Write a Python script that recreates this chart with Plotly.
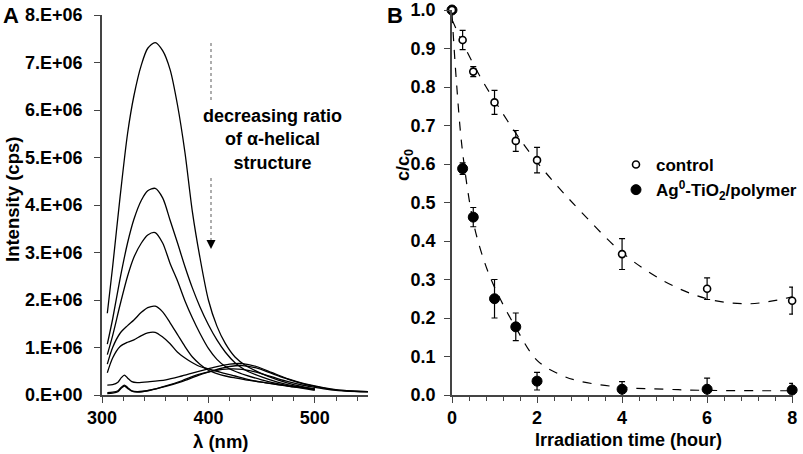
import plotly.graph_objects as go

# ---- panel A: emission spectra (intensity in units of 1e6 cps) ----
wl_main = [305, 310, 317, 324, 330, 337, 343, 350, 357, 364, 371, 378, 385,
           392, 400, 408, 416, 425, 435, 450, 465, 480, 500]
spec_1 = [1.72, 2.7, 4.17, 5.5, 6.3, 6.95, 7.3, 7.42, 7.25, 6.85, 6.1, 5.1, 3.85,
          2.9, 2.0, 1.45, 1.08, 0.8, 0.62, 0.45, 0.32, 0.22, 0.12]
spec_2 = [1.07, 1.6, 2.45, 3.2, 3.7, 4.1, 4.3, 4.35, 4.15, 3.68, 3.2, 2.7, 2.25,
          1.86, 1.48, 1.16, 0.9, 0.68, 0.52, 0.38, 0.27, 0.19, 0.12]
spec_3 = [0.85, 1.25, 1.9, 2.5, 2.9, 3.2, 3.37, 3.42, 3.2, 2.77, 2.4, 1.98, 1.62,
          1.3, 0.98, 0.75, 0.6, 0.5, 0.42, 0.32, 0.24, 0.17, 0.1]
spec_4 = [0.65, 1.0, 1.3, 1.46, 1.58, 1.74, 1.84, 1.87, 1.75, 1.52, 1.27, 1.02, 0.8,
          0.65, 0.52, 0.45, 0.4, 0.36, 0.32, 0.27, 0.22, 0.18, 0.13]
spec_5 = [0.47, 0.78, 1.02, 1.11, 1.16, 1.25, 1.31, 1.32, 1.22, 1.08, 0.9, 0.78, 0.68,
          0.6, 0.55, 0.5, 0.45, 0.4, 0.34, 0.27, 0.22, 0.17, 0.13]

wl_low = [305, 310, 315, 318, 321, 324, 328, 333, 345, 360, 375, 390, 405, 420,
          432, 445, 460, 475, 490, 500, 515, 530, 550]
spec_6 = [0.21, 0.22, 0.27, 0.36, 0.42, 0.36, 0.28, 0.26, 0.28, 0.32, 0.4, 0.49, 0.58,
          0.65, 0.66, 0.6, 0.47, 0.34, 0.24, 0.19, 0.13, 0.09, 0.07]
spec_7 = [0.05, 0.06, 0.09, 0.16, 0.21, 0.16, 0.09, 0.07, 0.1, 0.18, 0.28, 0.41, 0.52,
          0.6, 0.62, 0.57, 0.45, 0.33, 0.23, 0.18, 0.12, 0.09, 0.07]
spec_8 = [0.03, 0.04, 0.07, 0.14, 0.19, 0.14, 0.08, 0.06, 0.1, 0.19, 0.3, 0.43, 0.51,
          0.55, 0.54, 0.48, 0.38, 0.28, 0.2, 0.16, 0.11, 0.08, 0.065]

int_ticks = [0, 1, 2, 3, 4, 5, 6, 7, 8]
int_labels = ["0.E+00", "1.E+06", "2.E+06", "3.E+06", "4.E+06",
              "5.E+06", "6.E+06", "7.E+06", "8.E+06"]

# ---- panel B: photodegradation ----
time_h = [0, 0.25, 0.5, 1, 1.5, 2, 4, 6, 8]
control = [1.0, 0.922, 0.84, 0.76, 0.66, 0.61, 0.366, 0.276, 0.245]
control_err = [0, 0.025, 0.013, 0.031, 0.027, 0.033, 0.04, 0.028, 0.035]
ag_tio2 = [1.0, 0.588, 0.462, 0.25, 0.177, 0.036, 0.015, 0.015, 0.013]
ag_err = [0, 0.015, 0.025, 0.05, 0.036, 0.023, 0.02, 0.029, 0.017]

fit_time = [0, 0.25, 0.5, 0.75, 1, 1.5, 2, 2.5, 3, 4, 5, 6, 7, 8]
control_fit = [0.975, 0.915, 0.86, 0.81, 0.765, 0.68, 0.605, 0.54, 0.48, 0.37,
               0.295, 0.25, 0.237, 0.255]
ag_fit_time = [0, 0.1, 0.25, 0.5, 0.75, 1, 1.5, 2, 2.5, 3, 4, 5, 6, 8]
ag_fit = [0.99, 0.82, 0.63, 0.45, 0.35, 0.28, 0.175, 0.09, 0.055, 0.036, 0.02,
          0.015, 0.012, 0.011]

ratio_ticks = [0.0, 0.1, 0.2, 0.3, 0.4, 0.5, 0.6, 0.7, 0.8, 0.9, 1.0]
ratio_labels = ["0.0", "0.1", "0.2", "0.3", "0.4", "0.5", "0.6", "0.7", "0.8", "0.9", "1.0"]

FONT = "Liberation Sans, Arial, sans-serif"
AXIS_COL = "#444444"
W, H = 803, 454


def fx(px):
    return px / W


def fy(py):
    return 1 - py / H


def bold(size):
    return dict(family=FONT, size=size, color="black", weight="bold")


def label(px, py, text, size, angle=0):
    fig.add_annotation(xref="paper", yref="paper", x=fx(px), y=fy(py), text=text,
                       xanchor="center", yanchor="middle", textangle=angle,
                       showarrow=False, font=bold(size), align="center")


fig = go.Figure()

for wl, spec in [(wl_main, spec_1), (wl_main, spec_2), (wl_main, spec_3),
                 (wl_main, spec_4), (wl_main, spec_5),
                 (wl_low, spec_6), (wl_low, spec_7), (wl_low, spec_8)]:
    fig.add_trace(go.Scatter(x=wl, y=spec, mode="lines", xaxis="x", yaxis="y",
                             line=dict(color="black", width=1.3, shape="spline", smoothing=0.8),
                             showlegend=False, hoverinfo="skip"))

# fitted dashed curves
fig.add_trace(go.Scatter(x=fit_time, y=control_fit, mode="lines", xaxis="x2", yaxis="y2",
                         line=dict(color="black", width=1.2, dash="dash", shape="spline"),
                         showlegend=False))
fig.add_trace(go.Scatter(x=ag_fit_time, y=ag_fit, mode="lines", xaxis="x2", yaxis="y2",
                         line=dict(color="black", width=1.2, dash="dash", shape="spline"),
                         showlegend=False))

err_style = dict(type="data", thickness=1.2, width=3, color="black")
fig.add_trace(go.Scatter(x=time_h, y=ag_tio2, mode="markers", xaxis="x2", yaxis="y2",
                         name="Ag<sup>0</sup>-TiO<sub>2</sub>/polymer",
                         error_y=dict(array=ag_err, **err_style),
                         marker=dict(color="black", size=10, symbol="circle",
                                     line=dict(color="black", width=1)),
                         cliponaxis=False))
fig.add_trace(go.Scatter(x=time_h, y=control, mode="markers", xaxis="x2", yaxis="y2",
                         name="control",
                         error_y=dict(array=control_err, **err_style),
                         marker=dict(color="white", size=7, symbol="circle",
                                     line=dict(color="black", width=1.6)),
                         cliponaxis=False))

axis_common = dict(showline=True, linecolor=AXIS_COL, linewidth=1.5, ticks="outside",
                   tickcolor=AXIS_COL, tickwidth=1.3, showgrid=False, zeroline=False,
                   automargin=False, ticklen=6, ticklabeloverflow="allow")

fig.update_layout(
    width=W, height=H,
    margin=dict(l=0, r=0, t=0, b=0),
    plot_bgcolor="white", paper_bgcolor="white",
    xaxis=dict(domain=[fx(102), fx(368)], range=[300, 550], anchor="y",
               tickvals=[300, 400, 500], tickfont=bold(18), ticklabelstandoff=0,
               minor=dict(dtick=20, ticks="outside", ticklen=4, tickcolor=AXIS_COL),
               **axis_common),
    yaxis=dict(domain=[fy(395), fy(15)], range=[0, 8], anchor="x",
               tickvals=int_ticks, ticktext=int_labels, tickfont=bold(18),
               ticklabelstandoff=8, **axis_common),
    xaxis2=dict(domain=[fx(452), fx(793)], range=[0, 8.02], anchor="y2",
                tickvals=[0, 2, 4, 6, 8], tickfont=bold(18), ticklabelstandoff=0,
                minor=dict(dtick=0.4, ticks="outside", ticklen=4, tickcolor=AXIS_COL),
                **axis_common),
    yaxis2=dict(domain=[fy(395), fy(10)], range=[0, 1.0], anchor="x2",
                tickvals=ratio_ticks, ticktext=ratio_labels, tickfont=bold(18),
                ticklabelstandoff=5, **axis_common),
    legend=dict(x=fx(616), y=fy(147), xanchor="left", yanchor="top",
                font=bold(17), traceorder="reversed", bgcolor="rgba(0,0,0,0)",
                tracegroupgap=0, itemwidth=30),
)

# axis titles and text
label(12, 200, "Intensity (cps)", 18.5, -90)
label(221, 441, "λ (nm)", 18.5)
label(628, 440, "Irradiation time (hour)", 18)
label(404, 165, "c/c<sub>0</sub>", 18, -90)
label(272, 140, "decreasing ratio<br>of α-helical<br>structure", 18)
label(11, 15, "A", 22)
label(395, 15, "B", 22)

# dotted arrow indicating the trend
for y0, y1 in [(43, 102), (178, 244)]:
    fig.add_shape(type="line", xref="paper", yref="paper",
                  x0=fx(211), x1=fx(211), y0=fy(y0), y1=fy(y1),
                  line=dict(color="#777777", width=1.2, dash="dot"))
fig.add_annotation(xref="paper", yref="paper", x=fx(211), y=fy(249),
                   ax=0, ay=-9, text="", showarrow=True, arrowhead=2, arrowsize=1.2,
                   arrowwidth=1.5, arrowcolor="black")

fig.write_html("out.html", config={"displayModeBar": False},
               post_script="document.body.style.margin='0';")
